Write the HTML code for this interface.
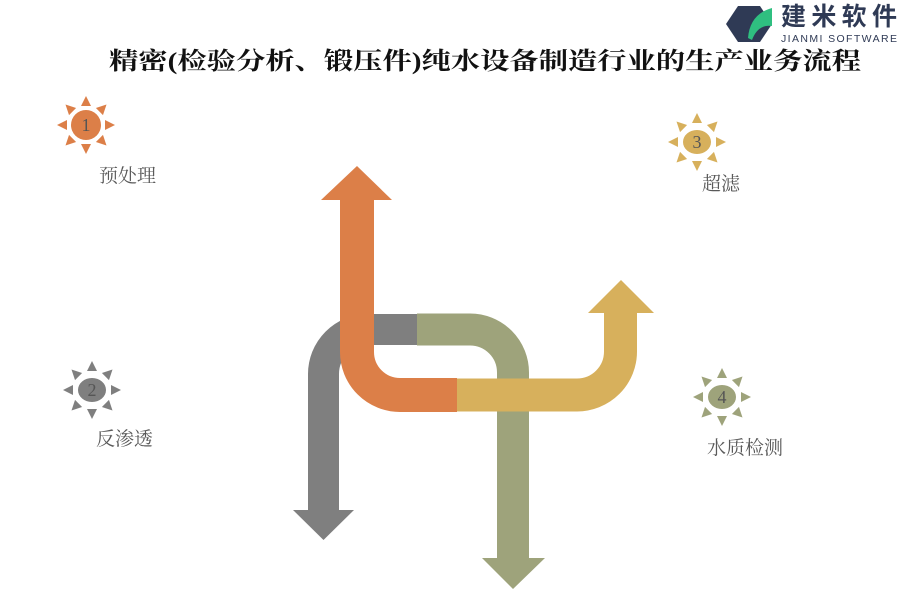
<!DOCTYPE html>
<html><head><meta charset="utf-8"><style>
html,body{margin:0;padding:0;background:#fff;}
svg{display:block;}
</style></head><body>
<svg width="900" height="600" viewBox="0 0 900 600" xmlns="http://www.w3.org/2000/svg">
<defs>
<g id="rays">
  <polygon points="0,-29 -5,-19 5,-19"/>
  <polygon points="0,-29 -5,-19 5,-19" transform="rotate(45)"/>
  <polygon points="0,-29 -5,-19 5,-19" transform="rotate(90)"/>
  <polygon points="0,-29 -5,-19 5,-19" transform="rotate(135)"/>
  <polygon points="0,-29 -5,-19 5,-19" transform="rotate(180)"/>
  <polygon points="0,-29 -5,-19 5,-19" transform="rotate(225)"/>
  <polygon points="0,-29 -5,-19 5,-19" transform="rotate(270)"/>
  <polygon points="0,-29 -5,-19 5,-19" transform="rotate(315)"/>
</g>
</defs>
<!-- logo -->
<polygon points="738,6 760,6 772,24 760,42 738,42 726,24" fill="#2f3a55"/>
<path d="M748,38 Q750,14 772,8 L772,26 Q758,24 752,40 Z" fill="#2fbf80"/>
<text x="781" y="25" font-family="'Noto Sans CJK SC',sans-serif" font-size="25" font-weight="bold" fill="#2f3a55" textLength="116">建米软件</text>
<text x="781" y="42" font-family="'Liberation Sans',sans-serif" font-size="10.5" fill="#2f3a55" textLength="116">JIANMI SOFTWARE</text>
<!-- title -->
<text x="109" y="69" font-family="'Liberation Serif','Noto Serif CJK SC',serif" font-size="24" font-weight="bold" fill="#111" textLength="752" lengthAdjust="spacingAndGlyphs">精密(检验分析、锻压件)纯水设备制造行业的生产业务流程</text>

<!-- arrows -->
<g fill="none" stroke-linecap="butt">
  <path d="M417 329.5 H368 A44.5 44.5 0 0 0 323.5 374 V511" stroke="#7f7f7f" stroke-width="31"/>
  <path d="M417 329.5 H470 A43 43 0 0 1 513 372.5 V559" stroke="#9ea37b" stroke-width="32"/>
  <path d="M357 199 V352 A43 43 0 0 0 400 395 H457" stroke="#dc7f48" stroke-width="34"/>
  <path d="M457 395 H577 A43.5 43.5 0 0 0 620.5 351.5 V312" stroke="#d7b05c" stroke-width="33"/>
</g>
<polygon points="321,200 357,166 392,200" fill="#dc7f48"/>
<polygon points="588,313 621,280 654,313" fill="#d7b05c"/>
<polygon points="293,510 323.5,540 354,510" fill="#7f7f7f"/>
<polygon points="482,558 513,589 545,558" fill="#9ea37b"/>

<!-- suns -->
<g font-family="'Liberation Serif',serif" font-size="18" text-anchor="middle" fill="#555">
<g transform="translate(86,125)" fill="#dc7f48"><use href="#rays"/><circle r="15"/></g>
<text x="86" y="131">1</text>
<g transform="translate(92,390)" fill="#7f7f7f"><use href="#rays"/><ellipse rx="14" ry="12"/></g>
<text x="92" y="396">2</text>
<g transform="translate(697,142)" fill="#d7b05c"><use href="#rays"/><ellipse rx="14" ry="12"/></g>
<text x="697" y="148">3</text>
<g transform="translate(722,397)" fill="#9ea37b"><use href="#rays"/><ellipse rx="14" ry="12"/></g>
<text x="722" y="403">4</text>
</g>
<g font-family="'Liberation Serif','Noto Serif CJK SC',serif" font-size="19" fill="#595959">
<text x="99" y="182">预处理</text>
<text x="702" y="190">超滤</text>
<text x="96" y="445">反渗透</text>
<text x="707" y="454">水质检测</text>
</g>
</svg>
</body></html>
